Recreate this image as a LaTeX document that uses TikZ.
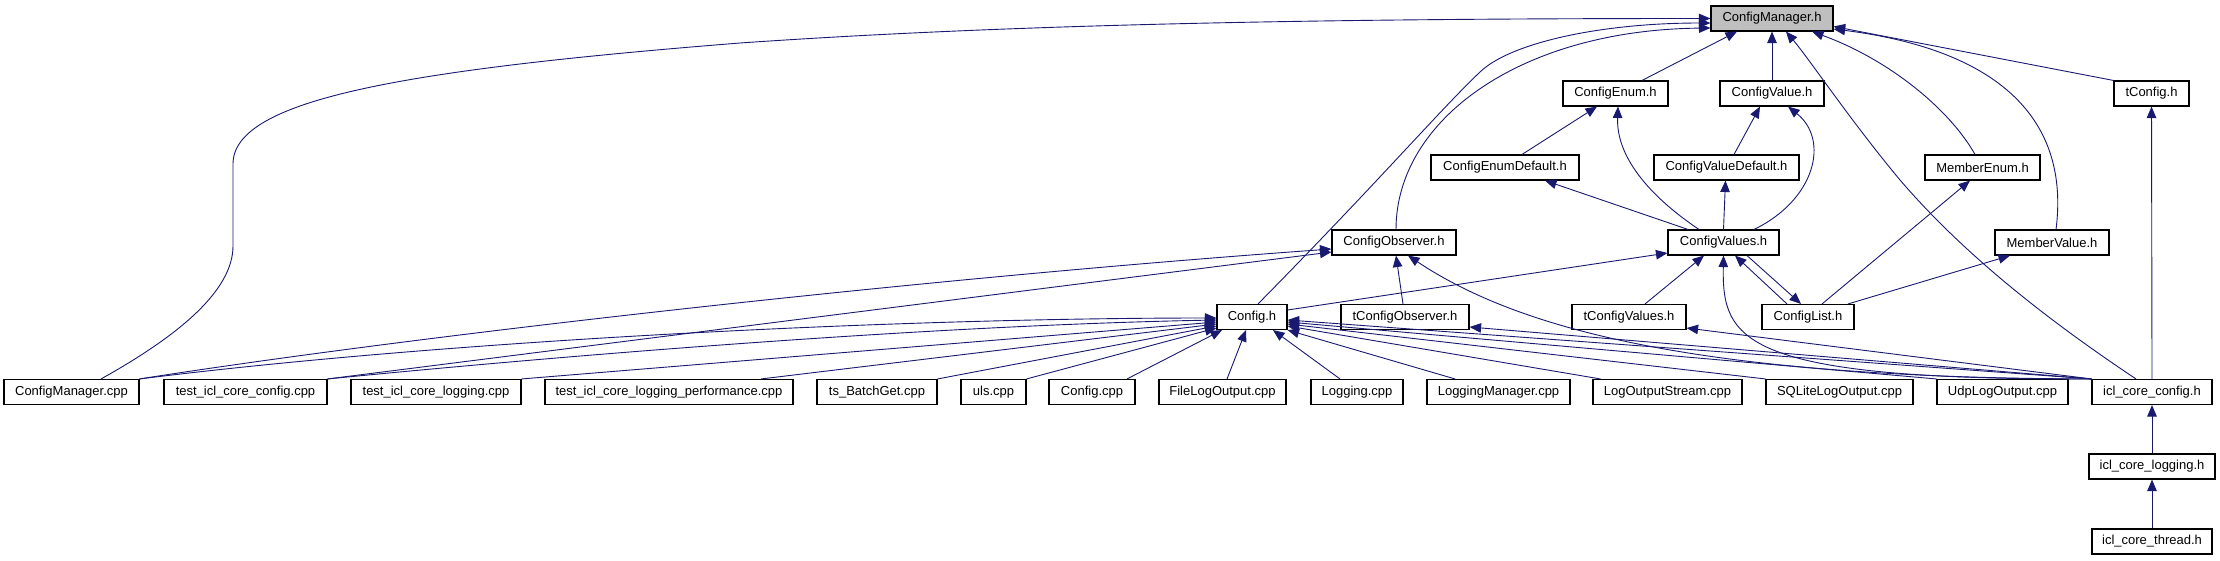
\documentclass[tikz,border=0pt]{standalone}
\usepackage{fontspec}
\setmainfont{Liberation Sans}
\usetikzlibrary{arrows.meta}
\definecolor{edgec}{HTML}{191970}
\definecolor{rootfill}{HTML}{BFBFBF}
\begin{document}
\begin{tikzpicture}[x=1pt,y=-1pt,
  box/.style={draw=black, line width=1.1pt, fill=white, minimum height=25pt, inner sep=0pt, font=\fontsize{13}{15}\selectfont},
  edge/.style={draw=edgec, line width=0.9pt, -{Triangle[length=11.5pt,width=9.5pt]}, fill=none}]
\useasboundingbox (0,0) rectangle (2220,560);
% rank 0
\node[box, minimum width=122pt, fill=rootfill] (cmh) at (1772,18.5) {ConfigManager.h};
% rank 1
\node[box, minimum width=105pt] (cenum) at (1615.5,93.5) {ConfigEnum.h};
\node[box, minimum width=104pt] (cval) at (1772,93.5) {ConfigValue.h};
\node[box, minimum width=75pt] (tcfg) at (2151.5,93.5) {tConfig.h};
% rank 2
\node[box, minimum width=148pt] (cenumdef) at (1505,167.5) {ConfigEnumDefault.h};
\node[box, minimum width=145pt] (cvaldef) at (1726.5,167.5) {ConfigValueDefault.h};
\node[box, minimum width=115pt] (menum) at (1982.5,167.5) {MemberEnum.h};
% rank 3
\node[box, minimum width=124pt] (cobs) at (1394,242.5) {ConfigObserver.h};
\node[box, minimum width=111pt] (cvals) at (1723.5,242.5) {ConfigValues.h};
\node[box, minimum width=114pt] (mval) at (2052,242.5) {MemberValue.h};
% rank 4
\node[box, minimum width=70pt] (cfgh) at (1252,317) {Config.h};
\node[box, minimum width=128pt] (tcobs) at (1405,317) {tConfigObserver.h};
\node[box, minimum width=114pt] (tcvals) at (1629,317) {tConfigValues.h};
\node[box, minimum width=92pt] (clist) at (1808,317) {ConfigList.h};
% rank 5
\node[box, minimum width=135pt] (cmcpp) at (71.5,392) {ConfigManager.cpp};
\node[box, minimum width=163pt] (tconf) at (245.5,392) {test\_icl\_core\_config.cpp};
\node[box, minimum width=170pt] (tlog) at (436,392) {test\_icl\_core\_logging.cpp};
\node[box, minimum width=248pt] (tperf) at (669,392) {test\_icl\_core\_logging\_performance.cpp};
\node[box, minimum width=120pt] (tsbg) at (877,392) {ts\_BatchGet.cpp};
\node[box, minimum width=65pt] (uls) at (993.5,392) {uls.cpp};
\node[box, minimum width=86pt] (cfgcpp) at (1092,392) {Config.cpp};
\node[box, minimum width=127pt] (flo) at (1222.5,392) {FileLogOutput.cpp};
\node[box, minimum width=92pt] (logc) at (1357,392) {Logging.cpp};
\node[box, minimum width=143pt] (lgm) at (1498.5,392) {LoggingManager.cpp};
\node[box, minimum width=149pt] (lgos) at (1667.5,392) {LogOutputStream.cpp};
\node[box, minimum width=147pt] (sqlite) at (1839.5,392) {SQLiteLogOutput.cpp};
\node[box, minimum width=131pt] (udp) at (2002.5,392) {UdpLogOutput.cpp};
\node[box, minimum width=120pt] (icc) at (2152,392) {icl\_core\_config.h};
% rank 6, 7
\node[box, minimum width=126pt] (iclog) at (2152,466.5) {icl\_core\_logging.h};
\node[box, minimum width=120pt] (icthr) at (2152,541.5) {icl\_core\_thread.h};

% edges into ConfigManager.h
\draw[edge] ([xshift=29.5pt]cmcpp.north) .. controls (180,335) and (233,290) .. (233,246) -- (233,164) .. controls (233,100) and (400,70) .. (740,43) .. controls (1000,25) and (1300,18.5) .. (cmh.west);
\draw[edge] ([xshift=6pt]cfgh.north) .. controls (1380,180) and (1440,110) .. (1480,72) .. controls (1510,43) and (1600,23) .. ([yshift=-4.5pt]cmh.west);
\draw[edge] ([xshift=2pt]cobs.north) .. controls (1396,120) and (1520,30) .. ([yshift=-9.5pt]cmh.west);
\draw[edge] ([xshift=26.5pt]cenum.north) -- ([xshift=-35pt]cmh.south);
\draw[edge] (cval.north) -- (cmh.south);
\draw[edge] ([xshift=-16pt]icc.north) .. controls (2040,315) and (1960,250) .. (1900,180) .. controls (1850,120) and (1810,60) .. ([xshift=14pt]cmh.south);
\draw[edge] ([xshift=-7.5pt]menum.north) .. controls (1950,110) and (1890,60) .. ([xshift=40pt]cmh.south);
\draw[edge] ([xshift=4pt]mval.north) .. controls (2070,120) and (2000,50) .. ([yshift=-10.5pt]cmh.east);
\draw[edge] (tcfg.north west) -- ([yshift=-8pt]cmh.east);

% rank 2 -> rank 1
\draw[edge] ([xshift=17pt]cenumdef.north) -- ([xshift=-18.5pt]cenum.south);
\draw[edge] ([xshift=-24.5pt]cvals.north) .. controls (1655,200) and (1616,160) .. ([xshift=2.5pt]cenum.south);
\draw[edge] ([xshift=7.5pt]cvaldef.north) -- ([xshift=-12pt]cval.south);
\draw[edge] ([xshift=30.5pt]cvals.north) .. controls (1815,200) and (1830,140) .. ([xshift=16pt]cval.south);
\draw[edge] ([xshift=-35.5pt]cvals.north) -- ([xshift=40pt]cenumdef.south);
\draw[edge] (cvals.north) -- ([xshift=-1pt]cvaldef.south);
\draw[edge] ([xshift=14pt]clist.north) -- ([xshift=-12.5pt]menum.south);
\draw[edge] ([xshift=40pt]clist.north) -- ([xshift=-42pt]mval.south);
\draw[edge] ([xshift=-21pt]clist.north) -- ([xshift=11.5pt]cvals.south);
\draw[edge] ([xshift=23.5pt]cvals.south) -- ([xshift=-7pt]clist.north);
\draw[edge] ([xshift=16pt]tcvals.north) -- ([xshift=-19.5pt]cvals.south);
\draw[edge] ([yshift=7pt]cfgh.east) -- ([yshift=-10.5pt]cvals.west);
\draw[edge] (icc.north west) .. controls (1740,380) and (1722,340) .. (cvals.south);
\draw[edge] (icc.north west) .. controls (1700,378) and (1520,330) .. ([xshift=14pt]cobs.south);
\draw[edge] (icc.north west) -- ([yshift=-10pt]tcobs.east);
\draw[edge] (icc.north west) -- ([yshift=-11pt]tcvals.east);
\draw[edge] ([xshift=-2pt]tcobs.north) -- ([xshift=2pt]cobs.south);
\draw[edge] (icc.north) -- (tcfg.south);
\draw[edge] (iclog.north) -- (icc.south);
\draw[edge] (icthr.north) -- (iclog.south);

% into ConfigObserver.h from the left
\draw[edge] (cmcpp.north east) .. controls (400,338) and (900,280) .. ([yshift=-6.5pt]cobs.west);
\draw[edge] (tconf.north east) -- ([yshift=-9.5pt]cobs.west);

% into Config.h
\draw[edge] (cmcpp.north east) .. controls (450,340) and (900,318) .. ([yshift=-1pt]cfgh.west);
\draw[edge] (tconf.north east) .. controls (600,352) and (950,325) .. ([yshift=-3pt]cfgh.west);
\draw[edge] (tlog.north east) -- ([yshift=-5pt]cfgh.west);
\draw[edge] ([xshift=92pt]tperf.north) -- ([yshift=-7pt]cfgh.west);
\draw[edge] (tsbg.north east) -- ([yshift=-9pt]cfgh.west);
\draw[edge] (uls.north east) -- ([yshift=-11pt]cfgh.west);
\draw[edge] ([xshift=35pt]cfgcpp.north) -- ([xshift=-30pt]cfgh.south);
\draw[edge] ([xshift=4.5pt]flo.north) -- ([xshift=-6pt]cfgh.south);
\draw[edge] ([xshift=-17pt]logc.north) -- ([xshift=21pt]cfgh.south);
\draw[edge] ([xshift=-43.5pt]lgm.north) -- (cfgh.south east);
\draw[edge] ([xshift=8pt]lgos.north west) -- ([yshift=-9pt]cfgh.east);
\draw[edge] (sqlite.north west) -- ([yshift=-7pt]cfgh.east);
\draw[edge] (udp.north west) -- ([yshift=-5pt]cfgh.east);
\draw[edge] (icc.north west) -- ([yshift=-3pt]cfgh.east);
\end{tikzpicture}
\end{document}
